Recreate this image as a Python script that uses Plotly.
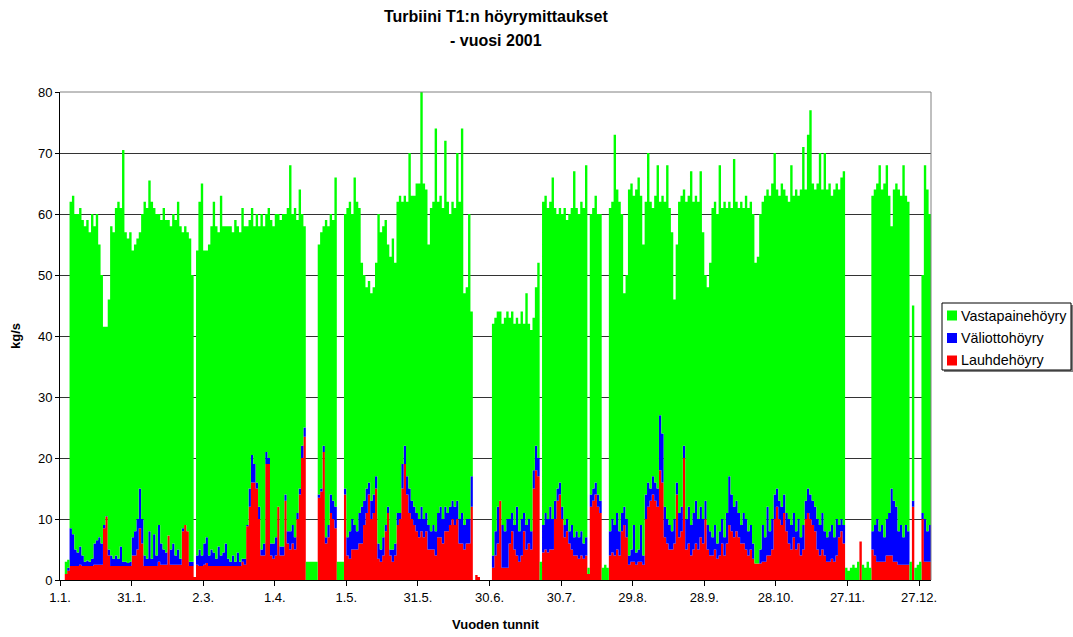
import plotly.graph_objects as go

# ---- data: daily readings (day 0 = 1.1.), values in kg/s ----
# total height (top of green), top of blue, top of red
total_top = [
    0, 0, 3, 3.3, 62, 63, 60, 60, 61, 59,
    58, 59, 57, 60, 58, 60, 55, 50, 41.5, 41.5,
    46, 58, 57, 61, 62, 61, 70.5, 57, 56, 57,
    54, 55, 56, 57, 60, 62, 61, 65.5, 62, 61,
    60, 60, 59, 61, 59, 59, 58, 60, 59, 62,
    58, 57, 58, 57, 56, 50, 0.5, 54, 62, 65,
    54, 54, 55, 58, 62, 58, 57, 63, 58, 58,
    58, 58, 57, 59, 58, 57, 61, 58, 58, 59,
    61, 58, 60, 58, 60, 58, 60, 61, 59, 58,
    60, 60, 59, 60, 60, 61, 68, 60, 61, 59,
    64, 60, 58, 3, 3, 3, 3, 3, 55, 57,
    58, 59, 58, 60, 59, 66, 3, 3, 3, 60,
    61, 62, 60, 66, 62, 61, 52, 50, 48, 49,
    47, 48, 52, 60, 57, 58, 59, 55, 53, 56,
    52, 62, 63, 62, 63, 62, 70, 63, 63, 65,
    65, 80.5, 65, 64, 55, 61, 62, 74, 62, 63,
    61, 72, 62, 60, 62, 61, 70, 62, 74, 47,
    48, 60, 44, 0, 0.8, 0.5, 0, 0, 0, 0,
    0, 42, 43, 44, 44, 42, 43, 44, 43, 44,
    42, 43, 42, 44, 42, 47, 42, 41, 43, 48,
    52, 3, 62, 63, 61, 62, 66, 61, 60, 61,
    60, 61, 59, 60, 61, 67, 61, 60, 62, 61,
    68, 2, 60, 61, 63, 60, 60, 2, 2.5, 2,
    61, 62, 73, 64, 62, 60, 47, 50, 64, 65,
    63, 64, 66, 63, 55, 62, 70, 62, 61, 63,
    68, 62, 63, 62, 68, 61, 57, 46, 55, 62,
    63, 64, 62, 63, 67, 62, 63, 62, 67, 57,
    50, 48, 52, 61, 62, 60, 68, 61, 62, 61,
    62, 61, 69, 62, 61, 62, 61, 63, 61, 62,
    60, 52, 53, 60, 62, 63, 64, 63, 65, 70,
    64, 63, 65, 64, 63, 62, 68, 63, 64, 63,
    64, 71, 64, 73, 77, 65, 64, 65, 70, 64,
    70, 64, 65, 63, 64, 65, 64, 66, 67, 2,
    1.5, 2, 2.5, 2, 3, 6.3, 2.5, 2, 3, 2,
    63, 64, 65, 68, 64, 65, 68, 63, 58, 64,
    65, 64, 63, 68, 63, 62, 3, 45, 2, 2.5,
    3, 50, 68, 64, 60,
]
blue_top = [
    0, 0, 1, 2, 8.5, 7.5, 5, 4.5, 5.5, 4,
    3, 3.2, 3, 3.5, 6, 6.5, 7, 6, 9, 10.5,
    5, 4, 3.5, 4, 3.5, 5.5, 3, 3, 2.8, 3,
    7, 8, 10, 15, 10, 4, 3.5, 8, 3.5, 7.5,
    4, 9, 6, 5, 4.5, 7.3, 5, 6, 4, 5,
    3.5, 8.5, 9, 8, 3, 3, 0.5, 4, 5, 4,
    6, 7, 4, 5, 4.5, 3.5, 5.5, 4, 4.5, 6,
    3.5, 3, 4, 3, 4.5, 3, 3.5, 3.5, 9, 15,
    20.5, 19, 16, 12, 5, 6, 21, 20, 6, 6,
    7, 12, 5.5, 5.5, 14, 8, 8, 9, 7, 11,
    15, 22, 25, 0, 0, 0, 0, 0, 14, 15,
    22, 7, 9, 14, 13, 12, 0, 0, 0, 15,
    7, 8, 10, 9, 8, 11, 12, 13, 15, 16,
    13, 14, 17, 6, 5, 7, 9, 12, 5, 5,
    6, 11, 11, 19, 22, 17, 15, 13, 12, 11,
    10, 12, 10, 11, 9, 8, 9, 8, 11, 12,
    10, 12, 11, 12, 13, 12, 13, 10, 11, 9,
    10, 10, 17, 0, 0.8, 0.5, 0, 0, 0, 0,
    0, 4, 8, 12, 13, 9, 8, 10, 10, 11,
    9, 12, 8, 10, 11, 9, 10, 8, 18, 22,
    20, 0, 9, 11, 10, 12, 10, 13, 15, 16,
    12, 9, 10, 8, 9, 7, 8, 7, 8, 6,
    7, 1, 14, 15, 16, 14, 13, 0, 0, 0,
    8, 10, 9, 11, 8, 11, 12, 10, 4, 5,
    9, 4.5, 5, 9, 4, 14, 16, 15, 17, 16,
    15, 27, 24, 12, 10, 9, 8, 10, 16, 11,
    12, 22, 10, 12, 9, 11, 13, 10, 12, 10,
    13, 9, 8, 7, 9, 6, 8, 10, 7, 11,
    17, 14, 12, 13, 11, 9, 11, 10, 8, 9,
    6, 2.7, 2.7, 5, 9, 7, 12, 8, 10, 14,
    15, 13, 12, 14, 11, 10, 9, 11, 8, 10,
    7, 9, 13, 15, 14, 13, 12, 10, 9, 11,
    8, 7, 8, 9, 7, 10, 9, 10, 9, 0,
    0, 0, 0, 0, 0, 6.3, 0, 0, 0, 0,
    8, 9, 10, 8, 9, 7, 10, 11, 15, 13,
    12, 8, 9, 7, 9, 8, 0, 13, 0, 0,
    0, 11, 10, 8, 9,
]
red_top = [
    0, 0, 1, 1.5, 2.3, 2.3, 2.3, 2.3, 2.5, 2.3,
    2.3, 2.3, 2.3, 2.3, 2.5, 2.5, 2.5, 2.5, 8.5, 10.4,
    4, 2.3, 2.3, 2.3, 2.3, 2.3, 2.3, 2.3, 2.3, 2.3,
    4, 4, 5, 8.5, 6, 2.3, 2.3, 2.3, 2.3, 2.3,
    2.3, 3, 2.5, 2.5, 2.5, 7.3, 2.5, 2.5, 2.5, 2.5,
    2.5, 8, 9, 8, 2.3, 2.3, 0.5, 2.5, 2.3, 2.3,
    2.5, 2.8, 2.3, 2.3, 2.3, 2.3, 2.3, 2.3, 2.3, 2.3,
    2.3, 2.3, 2.3, 2.3, 2.3, 2.3, 3, 2.5, 8.8, 12,
    16, 16, 15, 10, 4, 4, 19, 19, 4, 3.5,
    4, 12, 4, 4, 13, 6, 5, 6, 5, 10,
    14, 20, 23.5, 0, 0, 0, 0, 0, 13.5, 14.5,
    21, 6, 7, 11, 10, 8.5, 0, 0, 0, 14,
    4, 3.5, 5, 5, 5, 6, 6, 9, 11, 14,
    10, 11, 15, 3.5, 3, 4, 8, 11, 4, 3,
    4, 9, 10, 15, 19, 14, 11, 10, 9, 8,
    7, 8, 7, 8, 5, 5, 5, 4, 7, 7,
    6, 8, 8, 9, 10, 9, 10, 6, 6, 5,
    6, 6, 12, 0, 0.8, 0.5, 0, 0, 0, 0,
    0, 2, 4, 6, 13, 2, 2, 2, 6, 8,
    5, 4, 3, 4, 8, 5, 6, 5, 15, 18,
    17, 0, 4.5, 5, 4.5, 5, 5, 10, 13, 14,
    10, 7, 8, 6, 5, 4, 4, 3.5, 4, 3.5,
    4, 1, 12, 13, 14, 12, 11, 0, 0, 0,
    4, 4.5, 4, 5, 4, 8, 9, 7, 2.5, 3,
    3, 2.5, 3, 3, 2.5, 10, 12, 13, 14, 13,
    12, 18, 16, 7, 6, 5, 5, 6, 14, 7,
    8, 20, 5, 6, 4, 5, 6, 5, 7, 6,
    10, 5, 4, 4, 5, 3.5, 4, 6, 4, 6,
    9, 8, 7, 8, 7, 6, 6, 5, 4, 5,
    3.5, 2.7, 2.7, 2.7, 3, 3, 4, 4, 5, 10,
    12, 10, 9, 11, 8, 6, 5, 7, 5, 6,
    4, 5, 10, 11, 10, 9, 8, 5, 4, 5,
    4, 3, 3, 3.5, 3, 4, 7, 8, 6, 0,
    0, 0, 0, 0, 0, 6.3, 0, 0, 0, 0,
    5, 4, 3, 3, 3, 3, 4, 4, 4, 3,
    3, 2.5, 2.5, 2.5, 2.5, 2.5, 0, 12, 0, 0,
    0, 10, 3, 3, 3,
]

tick_hours = [0, 720, 1440, 2160, 2880, 3600, 4320, 5040, 5760, 6480, 7200, 7920, 8640]
tick_labels = ["1.1.", "31.1.", "2.3.", "1.4.", "1.5.", "31.5.", "30.6.", "30.7.",
               "29.8.", "28.9.", "28.10.", "27.11.", "27.12."]
series_names = ["Vastapainehöyry", "Väliottohöyry", "Lauhdehöyry"]
series_colors = ["#00FF00", "#0000FF", "#FF0000"]

assert len(total_top) == len(blue_top) == len(red_top) == 365

# components of the stack
lauhde = list(red_top)
valiotto = [b - r for b, r in zip(blue_top, red_top)]
vastapaine = [t - b for t, b in zip(total_top, blue_top)]

hours = [d * 24 for d in range(365)] + [8760]


def ext(v):
    return v + [v[-1]]


FONT = "Liberation Sans, Arial, sans-serif"
fig = go.Figure()
for name, vals, col in [(series_names[2], lauhde, series_colors[2]),
                        (series_names[1], valiotto, series_colors[1]),
                        (series_names[0], vastapaine, series_colors[0])]:
    fig.add_trace(go.Scatter(
        x=hours, y=ext(vals), mode="lines", stackgroup="one", name=name,
        line=dict(width=0, shape="hv"), fillcolor=col, showlegend=False,
        hoverinfo="skip"))

# ---- layout geometry (pixels) ----
W, H = 1073, 637
L, Rr, T, Bt = 60, 931, 92, 580


def px(x):
    return (x - L) / (Rr - L)


def py(y):
    return (Bt - y) / (Bt - T)


shapes = [
    dict(type="line", xref="paper", yref="paper", x0=0, x1=1, y0=1, y1=1,
         line=dict(color="#808080", width=1)),
    dict(type="line", xref="paper", yref="paper", x0=1, x1=1, y0=0, y1=1,
         line=dict(color="#808080", width=1)),
    # legend shadow + box
    dict(type="rect", xref="paper", yref="paper", x0=px(944), x1=px(1073),
         y0=py(372), y1=py(305), fillcolor="#808080", line=dict(width=0)),
    dict(type="rect", xref="paper", yref="paper", x0=px(942), x1=px(1071),
         y0=py(370), y1=py(303), fillcolor="white", line=dict(color="black", width=1)),
]
annotations = [
    dict(text="<b>Turbiini T1:n höyrymittaukset</b>", x=px(495.5), y=py(17),
         xref="paper", yref="paper", showarrow=False, xanchor="center", yanchor="middle",
         font=dict(family=FONT, size=16, color="black")),
    dict(text="<b>- vuosi 2001</b>", x=px(495.5), y=py(40),
         xref="paper", yref="paper", showarrow=False, xanchor="center", yanchor="middle",
         font=dict(family=FONT, size=16, color="black")),
]
legend_rows = [315.5, 338, 360.5]
for name, col, yc in zip(series_names, series_colors, legend_rows):
    shapes.append(dict(type="rect", xref="paper", yref="paper",
                       x0=px(947), x1=px(957), y0=py(yc + 5), y1=py(yc - 5),
                       fillcolor=col, line=dict(width=0)))
    annotations.append(dict(text=name, x=px(959), y=py(yc), xref="paper", yref="paper",
                            showarrow=False, xanchor="left", yanchor="middle",
                            font=dict(family=FONT, size=14.3, color="black")))

fig.update_layout(
    width=W, height=H, autosize=False,
    margin=dict(l=L, r=W - Rr, t=T, b=H - Bt, pad=0, autoexpand=False),
    paper_bgcolor="white", plot_bgcolor="white",
    font=dict(family=FONT, size=13, color="black"),
    showlegend=False,
    shapes=shapes, annotations=annotations,
    xaxis=dict(range=[0, 8760], tickvals=tick_hours, ticktext=tick_labels,
               showgrid=False, zeroline=False, showline=True, linecolor="black",
               linewidth=1, ticks="outside", ticklen=5, tickcolor="black",
               tickfont=dict(family=FONT, size=13), automargin=False,
               title=dict(text="<b>Vuoden tunnit</b>", font=dict(family=FONT, size=13),
                          standoff=16)),
    yaxis=dict(range=[0, 80], dtick=10, showgrid=True, gridcolor="#333333", gridwidth=1,
               zeroline=False, showline=True, linecolor="black", linewidth=1,
               ticks="outside", ticklen=4, tickcolor="black",
               tickfont=dict(family=FONT, size=13), automargin=False,
               title=dict(text="<b>kg/s</b>", font=dict(family=FONT, size=13), standoff=14)),
)

fig.write_html(
    "out.html",
    config={"displayModeBar": False, "staticPlot": True},
    post_script="document.body.style.margin='0';document.body.style.overflow='hidden';",
)
